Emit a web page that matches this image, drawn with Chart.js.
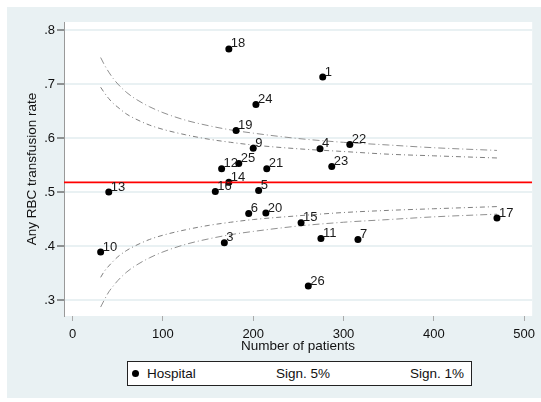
<!DOCTYPE html>
<html>
<head>
<meta charset="utf-8">
<script src="https://cdn.jsdelivr.net/npm/chart.js@4/dist/chart.umd.min.js"></script>
<style>
  html, body { margin: 0; padding: 0; background: #fff; }
  #wrap { position: relative; width: 541px; height: 402px; }
  #legend {
    position: absolute; left: 127px; top: 361px; width: 345px; height: 25px;
    box-sizing: border-box; border: 1px solid #222; background: #fff;
    font-family: Arial, "Liberation Sans", sans-serif; font-size: 13.5px; color: #111;
  }
  #legend span { position: absolute; top: 4px; white-space: nowrap; }
  #legend .dot { position: absolute; left: 4px; top: 8px; width: 7px; height: 7px; border-radius: 50%; background: #000; }
</style>
</head>
<body>
<div id="wrap">
  <canvas id="c" width="541" height="402"></canvas>
  <div id="legend">
    <div class="dot"></div>
    <span style="left:19px">Hospital</span>
    <span style="left:148px">Sign. 5%</span>
    <span style="left:282px">Sign. 1%</span>
  </div>
</div>
<script>
// ---- data ----
const hospitalIds = [1, 3, 4, 5, 6, 7, 9, 10, 11, 12, 13, 14, 15, 16, 17, 18, 19, 20, 21, 22, 23, 24, 25, 26];
const patients    = [277, 168, 274, 206, 195, 316, 200, 31, 275, 165, 40, 173, 253, 158, 470, 173, 181, 214, 215, 307, 287, 203, 184, 261];
const rates       = [0.713, 0.406, 0.580, 0.503, 0.460, 0.412, 0.581, 0.389, 0.414, 0.543, 0.500, 0.518, 0.443, 0.501, 0.452, 0.765, 0.614, 0.461, 0.543, 0.588, 0.547, 0.662, 0.553, 0.326];

const limitN   = [31, 35, 40, 45, 50, 60, 70, 85, 100, 125, 150, 175, 200, 250, 300, 350, 400, 470];
const upper5   = [0.694, 0.684, 0.673, 0.664, 0.657, 0.644, 0.635, 0.624, 0.616, 0.606, 0.598, 0.592, 0.587, 0.580, 0.575, 0.570, 0.567, 0.563];
const lower5   = [0.342, 0.353, 0.363, 0.372, 0.380, 0.392, 0.401, 0.412, 0.420, 0.430, 0.438, 0.444, 0.449, 0.456, 0.462, 0.466, 0.469, 0.473];
const upper1   = [0.749, 0.736, 0.722, 0.710, 0.700, 0.684, 0.672, 0.658, 0.647, 0.633, 0.623, 0.615, 0.609, 0.599, 0.592, 0.587, 0.582, 0.577];
const lower1   = [0.287, 0.300, 0.315, 0.326, 0.336, 0.352, 0.364, 0.378, 0.389, 0.403, 0.413, 0.421, 0.427, 0.437, 0.444, 0.449, 0.454, 0.459];

const overallRate = 0.518;
const xTicks = [0, 100, 200, 300, 400, 500];
const yTicks = [0.3, 0.4, 0.5, 0.6, 0.7, 0.8];
const xMin = -9.6, xMax = 509;
const yMin = 0.2704, yMax = 0.8148;

const FONT = 'Arial, "Liberation Sans", sans-serif';
const BG = '#e9f1f3';

const pts = patients.map((p, i) => ({ x: p, y: rates[i] }));
const curve = arr => limitN.map((n, i) => ({ x: n, y: arr[i] }));

const bgPlugin = {
  id: 'bg',
  beforeDraw(chart) {
    const { ctx, chartArea: a } = chart;
    ctx.save();
    ctx.fillStyle = '#fff';
    ctx.fillRect(0, 0, chart.width, chart.height);
    ctx.fillStyle = BG;
    ctx.fillRect(7, 7, chart.width - 7, chart.height - 11);
    ctx.fillStyle = '#fff';
    ctx.fillRect(a.left, a.top, a.right - a.left, a.bottom - a.top);
    ctx.restore();
  }
};

const labelPlugin = {
  id: 'ptlabels',
  afterDatasetsDraw(chart) {
    const meta = chart.getDatasetMeta(0);
    const ctx = chart.ctx;
    ctx.save();
    ctx.font = '13px ' + FONT;
    ctx.fillStyle = '#1a1a1a';
    ctx.textAlign = 'left';
    ctx.textBaseline = 'middle';
    meta.data.forEach((el, i) => {
      ctx.fillText(String(hospitalIds[i]), el.x + 2, el.y - 5);
    });
    ctx.restore();
  }
};

new Chart(document.getElementById('c'), {
  type: 'scatter',
  data: {
    datasets: [
      { label: 'Hospital', data: pts, pointRadius: 3.5, pointHoverRadius: 3.5,
        backgroundColor: '#000', borderColor: '#000', borderWidth: 0, order: 1 },
      { label: 'Sign. 5%', data: curve(upper5), showLine: true, pointRadius: 0,
        borderColor: '#808080', borderWidth: 1, borderDash: [5, 3, 1, 3], cubicInterpolationMode: 'monotone', order: 2 },
      { label: 'Sign. 5% lower', data: curve(lower5), showLine: true, pointRadius: 0,
        borderColor: '#808080', borderWidth: 1, borderDash: [5, 3, 1, 3], cubicInterpolationMode: 'monotone', order: 2 },
      { label: 'Sign. 1%', data: curve(upper1), showLine: true, pointRadius: 0,
        borderColor: '#909090', borderWidth: 1, borderDash: [7, 3, 1, 3], cubicInterpolationMode: 'monotone', order: 2 },
      { label: 'Sign. 1% lower', data: curve(lower1), showLine: true, pointRadius: 0,
        borderColor: '#909090', borderWidth: 1, borderDash: [7, 3, 1, 3], cubicInterpolationMode: 'monotone', order: 2 },
      { label: 'Overall', data: [{ x: xMin, y: overallRate }, { x: xMax, y: overallRate }], showLine: true,
        pointRadius: 0, borderColor: '#ff0000', borderWidth: 1.8, order: 0 }
    ]
  },
  options: {
    responsive: false,
    animation: false,
    events: [],
    layout: { padding: { left: 0, right: 6, top: 22, bottom: 47 } },
    plugins: { legend: { display: false }, tooltip: { enabled: false } },
    scales: {
      x: {
        type: 'linear', min: xMin, max: xMax,
        afterBuildTicks: s => { s.ticks = xTicks.map(v => ({ value: v })); },
        afterFit: s => { s.height = 39; },
        grid: { drawOnChartArea: false, drawTicks: true, tickLength: 5, tickColor: '#aaa', tickWidth: 1 },
        border: { display: false },
        ticks: { color: '#111', font: { size: 13, family: FONT }, padding: 6, maxRotation: 0, autoSkip: false },
        title: { display: true, text: 'Number of patients', color: '#111', font: { size: 13.5, family: FONT }, padding: { top: 0, bottom: 1 } }
      },
      y: {
        type: 'linear', min: yMin, max: yMax,
        afterBuildTicks: s => { s.ticks = yTicks.map(v => ({ value: v })); },
        afterFit: s => { s.width = 64; },
        grid: { color: BG, lineWidth: 2, drawTicks: true, tickLength: 7, tickColor: '#333', tickWidth: 1 },
        border: { display: true, color: '#999', width: 1 },
        ticks: { color: '#111', font: { size: 13, family: FONT }, padding: 2,
                 callback: v => v.toFixed(1).replace(/^0/, '') },
        title: { display: true, text: 'Any RBC transfusion rate', color: '#111', font: { size: 13.5, family: FONT }, padding: { top: 24, bottom: 0 } }
      }
    }
  },
  plugins: [bgPlugin, labelPlugin]
});
</script>
</body>
</html>
